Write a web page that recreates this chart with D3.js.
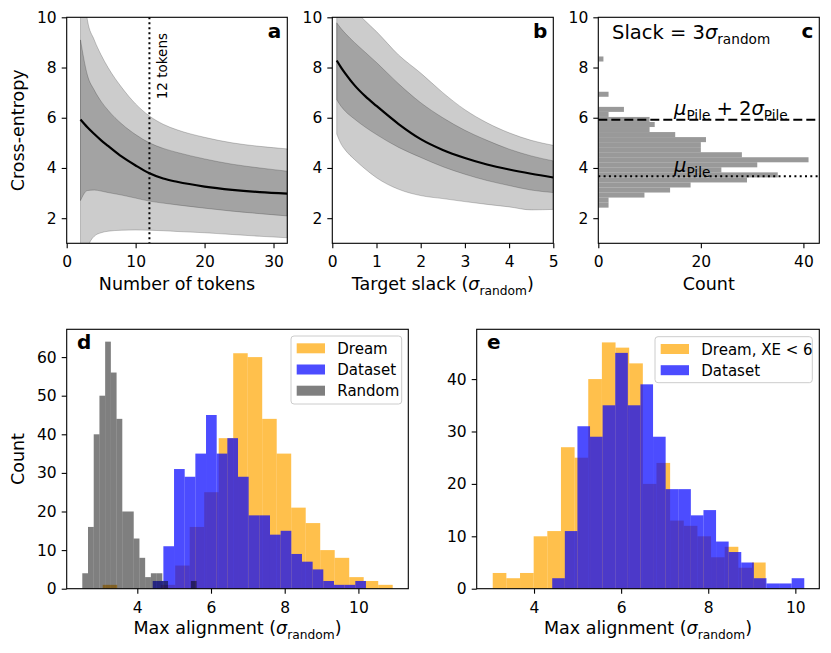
<!DOCTYPE html>
<html><head><meta charset="utf-8">
<script src="https://cdn.jsdelivr.net/npm/d3@7"></script>
<style>
body{margin:0;background:#fff;}
svg{font-family:"DejaVu Sans",sans-serif;}
text{white-space:pre;}
</style></head><body>
<svg id="chart" width="831" height="653"></svg>
<script>
// ---------- Panel a: cross-entropy vs number of tokens ----------
const tokens    = [2,3,4,5,6,8,10,12,14,16,20,24,28,32];
const aMean     = [5.93,5.62,5.35,5.1,4.88,4.45,4.1,3.79,3.58,3.45,3.26,3.13,3.04,2.98];
const aInnerHi  = [9.1,7.7,7.1,6.65,6.3,5.75,5.33,5.0,4.78,4.62,4.36,4.15,4.0,3.87];
const aInnerLo  = [2.7,3.1,3.12,3.08,3.02,2.92,2.8,2.68,2.6,2.53,2.4,2.28,2.18,2.09];
const aOuterHi  = [13.5,9.9,9.1,8.5,8.0,7.2,6.55,6.07,5.74,5.52,5.22,5.0,4.86,4.76];
const aOuterLo  = [-1.0,0.75,1.28,1.42,1.48,1.52,1.53,1.52,1.5,1.47,1.42,1.35,1.28,1.22];
const aMarker   = 12;

// ---------- Panel b: cross-entropy vs target slack ----------
const slack     = [0.1,0.2,0.3,0.5,0.75,1,1.5,2,2.5,3,3.5,4,4.5,5];
const bMean     = [8.28,8.0,7.75,7.3,6.85,6.47,5.75,5.15,4.72,4.4,4.14,3.94,3.77,3.62];
const bInnerHi  = [9.78,9.55,9.35,9.0,8.6,8.2,7.35,6.6,6.0,5.5,5.1,4.75,4.48,4.28];
const bInnerLo  = [6.72,6.45,6.25,5.95,5.62,5.33,4.82,4.42,4.05,3.75,3.5,3.3,3.12,3.02];
const bOuterHi  = [11.5,11.1,10.8,10.3,9.85,9.43,8.5,7.78,7.0,6.32,5.8,5.4,5.1,4.9];
const bOuterLo  = [5.35,4.95,4.7,4.34,3.95,3.61,3.15,2.9,2.78,2.66,2.55,2.45,2.33,2.35];

// ---------- Panel c: histogram of cross-entropy (slack = 3 sigma) ----------
const cRange    = [2.42, 8.44];
const cCounts   = [2,2,9,14,18,29,35,24,31,41,28,20,20,21,15,10,11,10,2,5,0,0,2,0,0,0,0,0,0,1];
const muPile    = 3.67;
const muPile2s  = 5.92;

// ---------- Panel d: max alignment histograms ----------
const dDreamRange   = [3.061, 10.931];
const dDreamCounts  = [1,0,0,0,1,6,16,25,39,61,60,44,35,21,17,10,8,3,2,1];
const datasetRange  = [4.418, 10.205];
const datasetCounts = [2,11,31,29,35,45,35,39,29,19,19,14,15,9,7,5,2,1,1,2];
const randomRange   = [2.507, 5.609];
const randomCounts  = [4,16,40,50,64,56,44,20,20,13,8,3,4,4,2,0,0,0,0,2];

// ---------- Panel e ----------
const eDreamRange   = [3.052, 9.318];
const eDreamCounts  = [3,2,3,10,11,27,25,40,47,46,43,20,24,13,12,10,6,8,4,5];

const topTicksY = [2,4,6,8,10];

// ================= drawing =================
const svg = d3.select("#chart");
const FONT = "DejaVu Sans";
const TICK = 15.5, LABEL = 17.5;

const P = {
  a:{x0:66.7, x1:287.3, y0:17.3, y1:243.3},
  b:{x0:332.3,x1:553.3, y0:17.3, y1:243.3},
  c:{x0:598.3,x1:819.3, y0:17.3, y1:243.3},
  d:{x0:66.7, x1:408.3, y0:329.3,y1:588.7},
  e:{x0:476.7,x1:819.3, y0:329.3,y1:588.7}
};

function axes(p, x, y, xt, yt){
  const g = svg.append("g");
  const ax = g.append("g").attr("transform",`translate(0,${p.y1})`)
    .call(d3.axisBottom(x).tickValues(xt).tickSize(5).tickPadding(8).tickSizeOuter(0).tickFormat(d3.format("d")));
  const ay = g.append("g").attr("transform",`translate(${p.x0},0)`)
    .call(d3.axisLeft(y).tickValues(yt).tickSize(5).tickPadding(5).tickSizeOuter(0).tickFormat(d3.format("d")));
  [ax,ay].forEach(a=>{
    a.select(".domain").remove();
    a.attr("font-family",FONT).attr("font-size",TICK);
    a.selectAll("line").attr("stroke","#000").attr("stroke-width",1.1);
    a.selectAll("text").attr("fill","#000");
  });
  g.append("rect").attr("x",p.x0).attr("y",p.y0).attr("width",p.x1-p.x0).attr("height",p.y1-p.y0)
    .attr("fill","none").attr("stroke","#000").attr("stroke-width",1.1);
}

function clip(id,p){
  svg.append("clipPath").attr("id",id).append("rect")
    .attr("x",p.x0).attr("y",p.y0).attr("width",p.x1-p.x0).attr("height",p.y1-p.y0);
}

function rich(x,y,parts,opt){
  const size = opt.size;
  const t = svg.append("text").attr("x",x).attr("y",y).attr("font-size",size)
    .attr("font-family",FONT).attr("text-anchor",opt.anchor||"start").attr("fill","#000");
  if(opt.rotate) t.attr("transform",`rotate(${opt.rotate},${x},${y})`);
  if(opt.weight) t.attr("font-weight",opt.weight);
  let shift = 0;
  parts.forEach(pt=>{
    const s = t.append("tspan").text(pt.t);
    if(pt.it) s.attr("font-style","italic");
    const target = pt.sub ? size*0.28 : 0;
    if(target!==shift){ s.attr("dy",target-shift); shift=target; }
    if(pt.sub) s.attr("font-size",size*0.7);
  });
  return t;
}

function bands(p, xs, x, y, outerHi, outerLo, innerHi, innerLo, mean, cid){
  const g = svg.append("g").attr("clip-path",`url(#${cid})`);
  const area = (hi,lo)=>d3.area().x((d,i)=>x(xs[i])).y0((d,i)=>y(lo[i])).y1((d,i)=>y(hi[i])).curve(d3.curveMonotoneX)(xs);
  g.append("path").attr("d",area(outerHi,outerLo)).attr("fill","#000").attr("fill-opacity",0.2)
    .attr("stroke","#000").attr("stroke-opacity",0.2).attr("stroke-width",1);
  g.append("path").attr("d",area(innerHi,innerLo)).attr("fill","#000").attr("fill-opacity",0.2)
    .attr("stroke","#000").attr("stroke-opacity",0.2).attr("stroke-width",1);
  const line = d3.line().x((d,i)=>x(xs[i])).y((d,i)=>y(mean[i])).curve(d3.curveMonotoneX);
  g.append("path").attr("d",line(xs)).attr("fill","none").attr("stroke","#000").attr("stroke-width",2.2);
  return g;
}

function binned(range, counts){
  const w = (range[1]-range[0])/counts.length;
  return counts.map((n,i)=>({x0:range[0]+i*w, x1:range[0]+(i+1)*w, n}));
}

// ---- panel a
{
  const p=P.a;
  const x=d3.scaleLinear().domain([0,32]).range([p.x0,p.x1]);
  const y=d3.scaleLinear().domain([1,10]).range([p.y1,p.y0]);
  clip("ca",p);
  const g=bands(p,tokens,x,y,aOuterHi,aOuterLo,aInnerHi,aInnerLo,aMean,"ca");
  g.append("line").attr("x1",x(aMarker)).attr("x2",x(aMarker)).attr("y1",p.y0).attr("y2",p.y1)
    .attr("stroke","#000").attr("stroke-width",2).attr("stroke-dasharray","2,3");
  axes(p,x,y,[0,10,20,30],topTicksY);
  svg.append("text").attr("x",166.5).attr("y",33).attr("transform","rotate(-90,166.5,33)")
    .attr("text-anchor","end").attr("font-family",FONT).attr("font-size",13.5).text("12 tokens");
  rich(p.x1-6,38,[{t:"a"}],{size:20,anchor:"end",weight:"bold"});
  rich((p.x0+p.x1)/2,290,[{t:"Number of tokens"}],{size:LABEL,anchor:"middle"});
  rich(24,(p.y0+p.y1)/2,[{t:"Cross-entropy"}],{size:LABEL,anchor:"middle",rotate:-90});
}
// ---- panel b
{
  const p=P.b;
  const x=d3.scaleLinear().domain([0,5]).range([p.x0,p.x1]);
  const y=d3.scaleLinear().domain([1,10]).range([p.y1,p.y0]);
  clip("cb",p);
  bands(p,slack,x,y,bOuterHi,bOuterLo,bInnerHi,bInnerLo,bMean,"cb");
  axes(p,x,y,[0,1,2,3,4,5],topTicksY);
  rich(p.x1-6,38,[{t:"b"}],{size:20,anchor:"end",weight:"bold"});
  rich((p.x0+p.x1)/2,290,[{t:"Target slack ("},{t:"σ",it:1},{t:"random",sub:1},{t:")"}],{size:LABEL,anchor:"middle"});
}
// ---- panel c
{
  const p=P.c;
  const x=d3.scaleLinear().domain([0,43.1]).range([p.x0,p.x1]);
  const y=d3.scaleLinear().domain([1,10]).range([p.y1,p.y0]);
  clip("cc",p);
  const g=svg.append("g").attr("clip-path","url(#cc)");
  g.selectAll("rect").data(binned(cRange,cCounts).filter(d=>d.n>0)).join("rect")
    .attr("x",x(0)).attr("width",d=>x(d.n)-x(0))
    .attr("y",d=>y(d.x1)).attr("height",d=>y(d.x0)-y(d.x1))
    .attr("fill","#808080").attr("fill-opacity",0.8);
  g.append("line").attr("x1",p.x0).attr("x2",p.x1).attr("y1",y(muPile2s)).attr("y2",y(muPile2s))
    .attr("stroke","#000").attr("stroke-width",2).attr("stroke-dasharray","9,4");
  g.append("line").attr("x1",p.x0).attr("x2",p.x1).attr("y1",y(muPile)).attr("y2",y(muPile))
    .attr("stroke","#000").attr("stroke-width",2).attr("stroke-dasharray","2,3.3");
  axes(p,x,y,[0,20,40],topTicksY);
  rich(p.x1-6,38,[{t:"c"}],{size:20,anchor:"end",weight:"bold"});
  rich(612,39,[{t:"Slack = 3"},{t:"σ",it:1},{t:"random",sub:1}],{size:19.5});
  rich(674,115,[{t:"μ",it:1},{t:"Pile",sub:1},{t:" + 2"},{t:"σ",it:1},{t:"Pile",sub:1}],{size:19.5});
  rich(674,172,[{t:"μ",it:1},{t:"Pile",sub:1}],{size:19.5});
  rich((p.x0+p.x1)/2,290,[{t:"Count"}],{size:LABEL,anchor:"middle"});
}
// ---- histogram panels
const ORANGE="#FFA500", BLUE="#0000FF";
function hist(g,x,y,range,counts,color,op){
  g.append("g").selectAll("rect").data(binned(range,counts).filter(d=>d.n>0)).join("rect")
    .attr("x",d=>x(d.x0)).attr("width",d=>x(d.x1)-x(d.x0))
    .attr("y",d=>y(d.n)).attr("height",d=>y(0)-y(d.n))
    .attr("fill",color).attr("fill-opacity",op);
}
function legend(x0,y0,w,h,items){
  const g=svg.append("g");
  g.append("rect").attr("x",x0).attr("y",y0).attr("width",w).attr("height",h).attr("rx",3)
    .attr("fill","#fff").attr("fill-opacity",0.8).attr("stroke","#cccccc").attr("stroke-width",1);
  items.forEach((it,i)=>{
    const cy=y0+12.3+i*21.2;
    g.append("rect").attr("x",x0+5.7).attr("y",cy-5).attr("width",28.3).attr("height",10)
      .attr("fill",it.c).attr("fill-opacity",it.o);
    g.append("text").attr("x",x0+46.3).attr("y",cy+5.5).attr("font-family",FONT).attr("font-size",15).text(it.t);
  });
}
// d
{
  const p=P.d;
  const x=d3.scaleLinear().domain([2.084,11.354]).range([p.x0,p.x1]);
  const y=d3.scaleLinear().domain([0,67.2]).range([p.y1,p.y0]);
  const g=svg.append("g");
  hist(g,x,y,dDreamRange,dDreamCounts,ORANGE,0.7);
  hist(g,x,y,datasetRange,datasetCounts,BLUE,0.7);
  hist(g,x,y,randomRange,randomCounts,"#000",0.5);
  axes(p,x,y,[4,6,8,10],[0,10,20,30,40,50,60]);
  legend(291,336,110.7,68,[{t:"Dream",c:ORANGE,o:0.7},{t:"Dataset",c:BLUE,o:0.7},{t:"Random",c:"#000",o:0.5}]);
  rich(77,349,[{t:"d"}],{size:20,weight:"bold"});
  rich((p.x0+p.x1)/2,634,[{t:"Max alignment ("},{t:"σ",it:1},{t:"random",sub:1},{t:")"}],{size:LABEL,anchor:"middle"});
  rich(24,(p.y0+p.y1)/2,[{t:"Count"}],{size:LABEL,anchor:"middle",rotate:-90});
}
// e
{
  const p=P.e;
  const x=d3.scaleLinear().domain([2.684,10.55]).range([p.x0,p.x1]);
  const y=d3.scaleLinear().domain([0,49.5]).range([p.y1,p.y0]);
  const g=svg.append("g");
  hist(g,x,y,eDreamRange,eDreamCounts,ORANGE,0.7);
  hist(g,x,y,datasetRange,datasetCounts,BLUE,0.7);
  axes(p,x,y,[4,6,8,10],[0,10,20,30,40]);
  legend(655,336.7,157.3,46,[{t:"Dream, XE < 6",c:ORANGE,o:0.7},{t:"Dataset",c:BLUE,o:0.7}]);
  rich(487,349,[{t:"e"}],{size:20,weight:"bold"});
  rich((p.x0+p.x1)/2,634,[{t:"Max alignment ("},{t:"σ",it:1},{t:"random",sub:1},{t:")"}],{size:LABEL,anchor:"middle"});
}
</script>
</body></html>
